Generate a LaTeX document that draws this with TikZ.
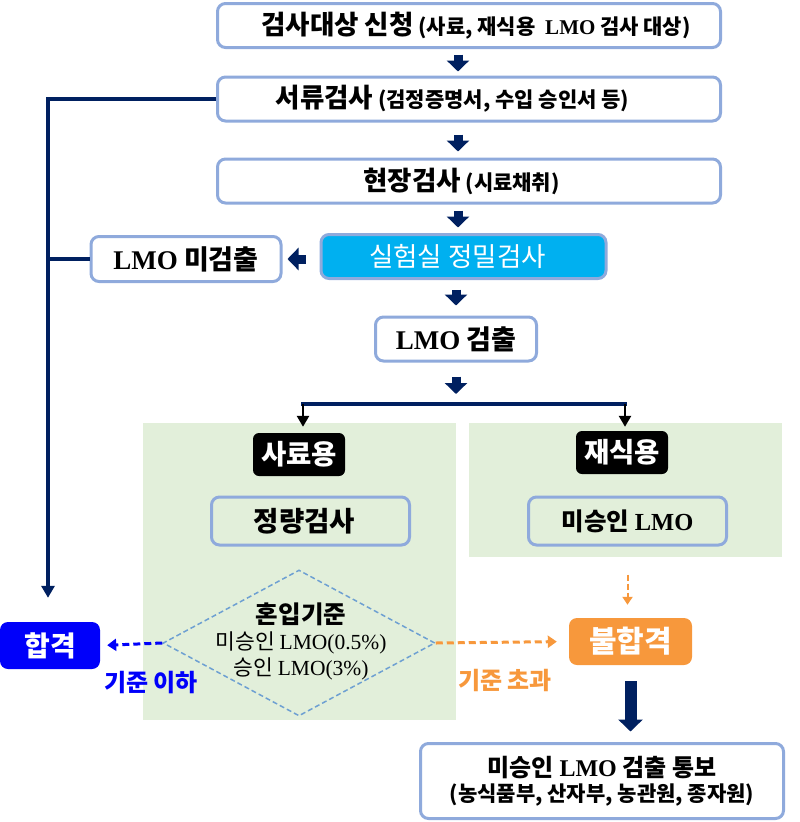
\documentclass[tikz,border=0pt]{standalone}
\usepackage{fontspec}
\setmainfont{Noto Sans CJK KR}
\newfontfamily\lmofont{Liberation Serif}
\usetikzlibrary{shapes.geometric,arrows.meta}
\definecolor{navy}{RGB}{0,32,96}
\definecolor{boxline}{RGB}{143,170,220}
\definecolor{labfill}{RGB}{0,176,240}
\definecolor{panel}{RGB}{226,239,218}
\definecolor{passblue}{RGB}{0,0,250}
\definecolor{failorange}{RGB}{247,152,60}
\definecolor{critline}{RGB}{110,160,210}
\newcommand{\lmo}{{\lmofont LMO}}
\newcommand{\fsz}[2]{\fontsize{#1}{#2}\selectfont}

\begin{document}
\begin{tikzpicture}[x=1pt,y=-1pt,
  box/.style={draw=boxline,line width=3pt,rounded corners=8pt,fill=white,inner sep=0pt},
  tagbox/.style={fill=black,rounded corners=6pt,text=white,font=\fsz{27.5}{30}\bfseries,minimum width=92pt,minimum height=43pt,inner sep=0pt},
  verdict/.style={rounded corners=8pt,text=white,font=\fsz{28}{30}\bfseries,minimum height=47pt,inner sep=0pt},
  blk/.style={draw=navy,line width=9pt,-{Triangle[width=22pt,length=11pt]}},
  bus/.style={draw=navy,line width=4pt},
  drop/.style={draw=black,line width=2.5pt,-{Triangle[width=12pt,length=11pt]}},
  passline/.style={draw=passblue,line width=3pt,dash pattern=on 7pt off 4pt,-{Triangle[width=12pt,length=9pt]}},
  failline/.style={draw=failorange,line width=3pt,dash pattern=on 7pt off 4pt,-{Triangle[width=12pt,length=9pt]}}]
\useasboundingbox (0,0) rectangle (800,822);
\fill [panel] (143,423) rectangle (456,720);
\fill [panel] (469,423) rectangle (782,557);
\node [box,minimum width=503pt,minimum height=44pt] (apply) at (469,25.5) {\hspace*{14pt}{\fsz{26.5}{28}\bfseries 검사대상 신청}{\fsz{21}{24}\bfseries\ (사료, 재식용\ \ \lmo\ 검사 대상)}};
\node [box,minimum width=503pt,minimum height=44pt] (docs) at (469,99) {{\fsz{26.5}{28}\bfseries 서류검사}{\fsz{21}{24}\bfseries\ (검정증명서, 수입 승인서 등)}\hspace*{33pt}};
\node [box,minimum width=503pt,minimum height=44pt] (field) at (469,181) {{\fsz{26.5}{28}\bfseries 현장검사}{\fsz{21}{24}\bfseries\ (시료채취)}\hspace*{15pt}};
\node [box,fill=labfill,minimum width=285pt,minimum height=44pt,text=white,font=\fsz{26.5}{28}] (lab) at (463.5,256.5) {실험실 정밀검사\hspace*{12pt}};
\node [box,minimum width=190pt,minimum height=45pt,font=\fsz{27}{30}\bfseries] (nodetect) at (186,259) {\lmo\ 미검출};
\node [box,minimum width=161pt,minimum height=44pt,font=\fsz{27}{30}\bfseries] (detect) at (456,339) {\lmo\ 검출};
\node [tagbox] (feedtag) at (299,454.5) {사료용};
\node [tagbox] (planttag) at (622,452.5) {재식용};
\node [box,fill=panel,minimum width=198pt,minimum height=48pt,font=\fsz{27.5}{30}\bfseries] (quant) at (310.5,521) {정량검사\hspace*{12pt}};
\node [box,fill=panel,minimum width=198pt,minimum height=48pt,font=\fsz{24.5}{30}\bfseries] (unappr) at (627.5,521) {미승인 \lmo};
\node [diamond,draw=critline,line width=1.5pt,dash pattern=on 5pt off 3pt,minimum width=272pt,minimum height=146pt,inner sep=0pt] (crit) at (299,643) {};
\node [align=center,font=\fsz{21.5}{26}] (critlabel) at (301,641) {{\fsz{24.5}{28}\bfseries 혼입기준}\\미승인 {\lmofont LMO(0.5\%)}\\승인 {\lmofont LMO(3\%)}};
\node [verdict,fill=passblue,minimum width=100pt] (pass) at (50,645.5) {합격};
\node [verdict,fill=failorange,minimum width=123pt,font=\fsz{30}{32}\bfseries] (fail) at (630.5,641.5) {불합격};
\node [box,minimum width=363pt,minimum height=75pt,align=center] (notify) at (602,781) {{\fsz{24}{28}\bfseries 미승인 \lmo\ 검출 통보}\\[4pt]{\fsz{21}{24}\bfseries (농식품부, 산자부, 농관원, 종자원)}};
\node [text=passblue,font=\fsz{24}{26}\bfseries] (passnote) at (151,683) {기준 이하};
\node [text=failorange,font=\fsz{24}{26}\bfseries] (failnote) at (505,680) {기준 초과};
\coordinate (split) at (456,404);
\coordinate (lsplit) at (303,404);
\coordinate (rsplit) at (625,404);
\coordinate (lbus) at (48,99);
\draw [blk,shorten <=5.5pt,shorten >=4pt] ([xshift=-11pt]apply.south) -- ([xshift=-11pt]docs.north);
\draw [blk,shorten <=12pt,shorten >=6pt] ([xshift=-11pt]docs.south) -- ([xshift=-11pt]field.north);
\draw [blk,shorten <=6pt,shorten >=5.5pt] ([xshift=-11pt]field.south) -- ([xshift=-5.5pt]lab.north);
\draw [blk,shorten <=9.5pt,shorten >=10pt] (lab.south -| detect.north) -- (detect.north);
\draw [blk,shorten <=14pt,shorten >=5pt] (lab.west |- nodetect.east) -- (nodetect.east);
\draw [blk,shorten <=14pt,shorten >=10pt] (detect.south) -- (split);
\draw [bus,line width=3.5pt,line cap=rect] (lsplit) -- (rsplit);
\draw [drop,shorten >=6pt] (lsplit) -- (lsplit |- feedtag.north);
\draw [drop,shorten >=4pt] (rsplit) -- (rsplit |- planttag.north);
\draw [bus,-{Triangle[width=13pt,length=12pt]},shorten >=24pt] (docs.west) -- (lbus) -- (lbus |- pass.north);
\draw [bus] (nodetect.west) -- (nodetect.west -| lbus);
\draw [passline,shorten >=7pt] (crit.west) -- (pass.east);
\draw [failline,shorten >=12pt] (crit.east) -- (fail.west);
\draw [failline,line width=2pt,dash pattern=on 6pt off 3pt,-{Triangle[width=10pt,length=8pt]},shorten <=28pt,shorten >=13pt] (unappr.south) -- (unappr.south |- fail.north);
\draw [draw=navy,line width=12pt,-{Triangle[width=24pt,length=12pt]},shorten <=16pt,shorten >=10.5pt] (fail.south) -- (fail.south |- notify.north);
\end{tikzpicture}
\end{document}
